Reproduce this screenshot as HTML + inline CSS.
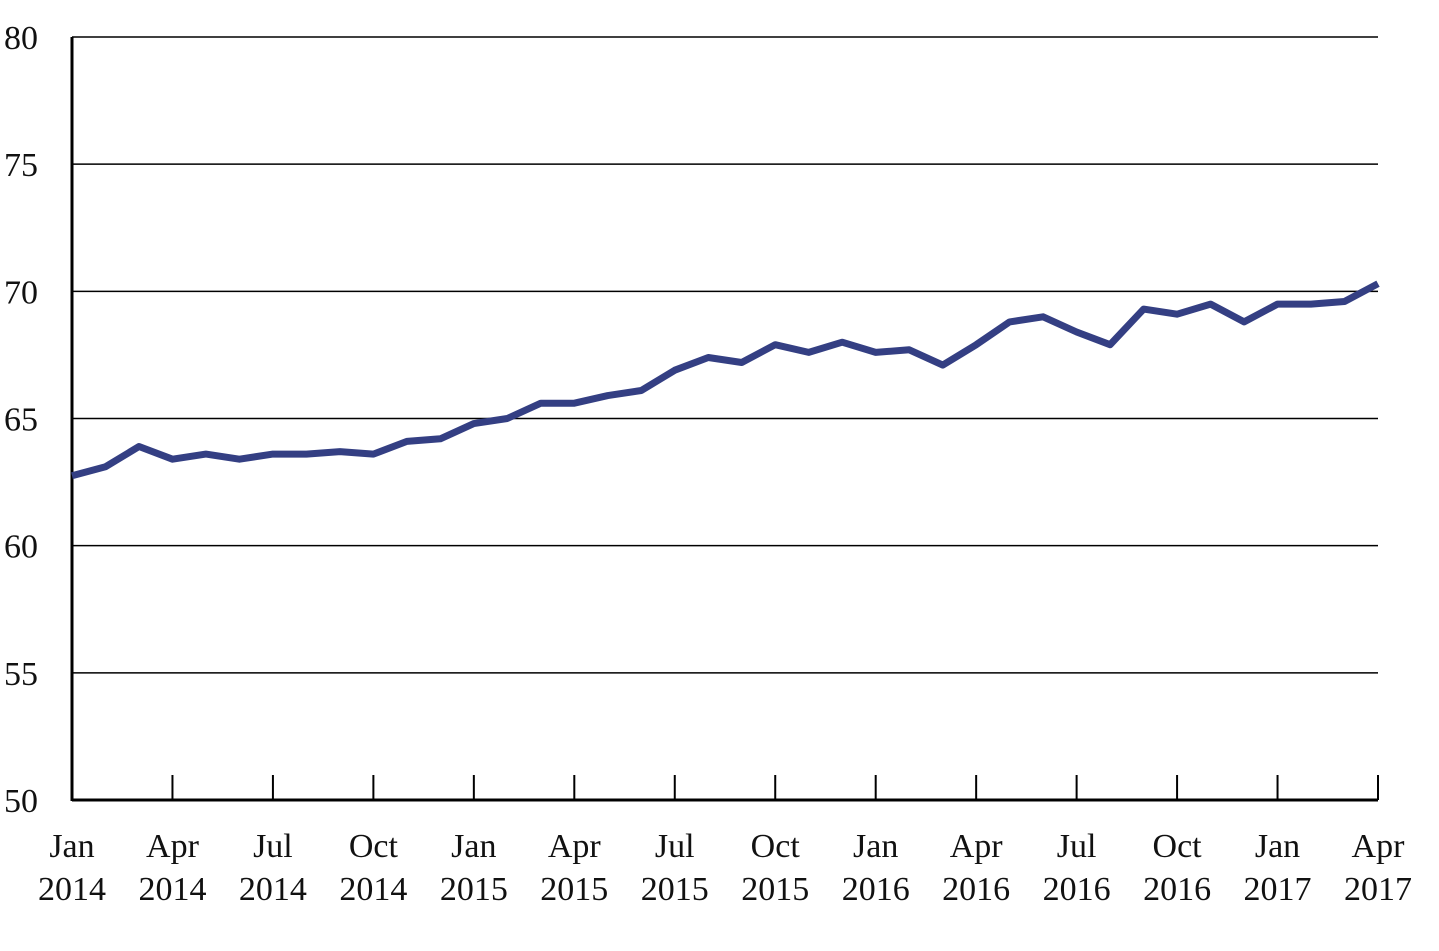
<!DOCTYPE html>
<html><head><meta charset="utf-8"><style>
html,body{margin:0;padding:0;background:#fff;}
svg text{font-family:"Liberation Serif",serif;font-size:34px;fill:#111;}
</style></head><body>
<svg id="chart" width="1439" height="946" xmlns="http://www.w3.org/2000/svg">
<g id="grid"></g>
<g id="yax"></g>
<g id="xax"></g>
<path id="line" fill="none" stroke="#343f83" stroke-width="7" stroke-linejoin="round"/>
</svg>
<script>
const values=[62.75,63.1,63.9,63.4,63.6,63.4,63.6,63.6,63.7,63.6,64.1,64.2,64.8,65.0,65.6,65.6,65.9,66.1,66.9,67.4,67.2,67.9,67.6,68.0,67.6,67.7,67.1,67.9,68.8,69.0,68.4,67.9,69.3,69.1,69.5,68.8,69.5,69.5,69.6,70.3];
const yTicks=[50,55,60,65,70,75,80];
const xMonths=["Jan","Apr","Jul","Oct"];
const xYears=[2014,2015,2016,2017];
const ns="http://www.w3.org/2000/svg";
const X0=72,X1=1378,Y0=800,Y1=37;
const n=values.length;
function x(i){return X0+(X1-X0)*i/(n-1);}
function y(v){return Y0-(v-50)/(80-50)*(Y0-Y1);}
function mk(t,a,p){const e=document.createElementNS(ns,t);for(const k in a)e.setAttribute(k,a[k]);p.appendChild(e);return e;}
const grid=document.getElementById('grid'),yax=document.getElementById('yax'),xax=document.getElementById('xax');
yTicks.forEach(t=>{
  if(t>50){const l=mk('line',{x1:X0,x2:X1,y1:y(t),y2:y(t),stroke:'#000','stroke-width':1.5},grid);
  
  }
  const tx=mk('text',{x:38,y:y(t)+12,'text-anchor':'end'},yax);tx.textContent=t;
  
  
});
const ax=mk('line',{x1:X0,x2:X0,y1:Y1,y2:Y0+1,stroke:'#000','stroke-width':3},yax);


const bx=mk('line',{x1:X0,x2:X1,y1:Y0,y2:Y0,stroke:'#000','stroke-width':3},xax);


for(let i=0;i<n;i+=3){
  const xx=x(i);
  const tk=mk('line',{x1:xx,x2:xx,y1:775,y2:Y0,stroke:'#000','stroke-width':2},xax);
  
  
  const m=xMonths[(i/3)%4],yr=xYears[Math.floor(i/12)];
  const t1=mk('text',{x:xx,y:857,'text-anchor':'middle'},xax);t1.textContent=m;
  
  
  const t2=mk('text',{x:xx,y:900,'text-anchor':'middle'},xax);t2.textContent=yr;
  
  
}
document.getElementById('line').setAttribute('d',values.map((v,i)=>(i?'L':'M')+x(i).toFixed(1)+','+y(v).toFixed(1)).join(''));
</script>
</body></html>
